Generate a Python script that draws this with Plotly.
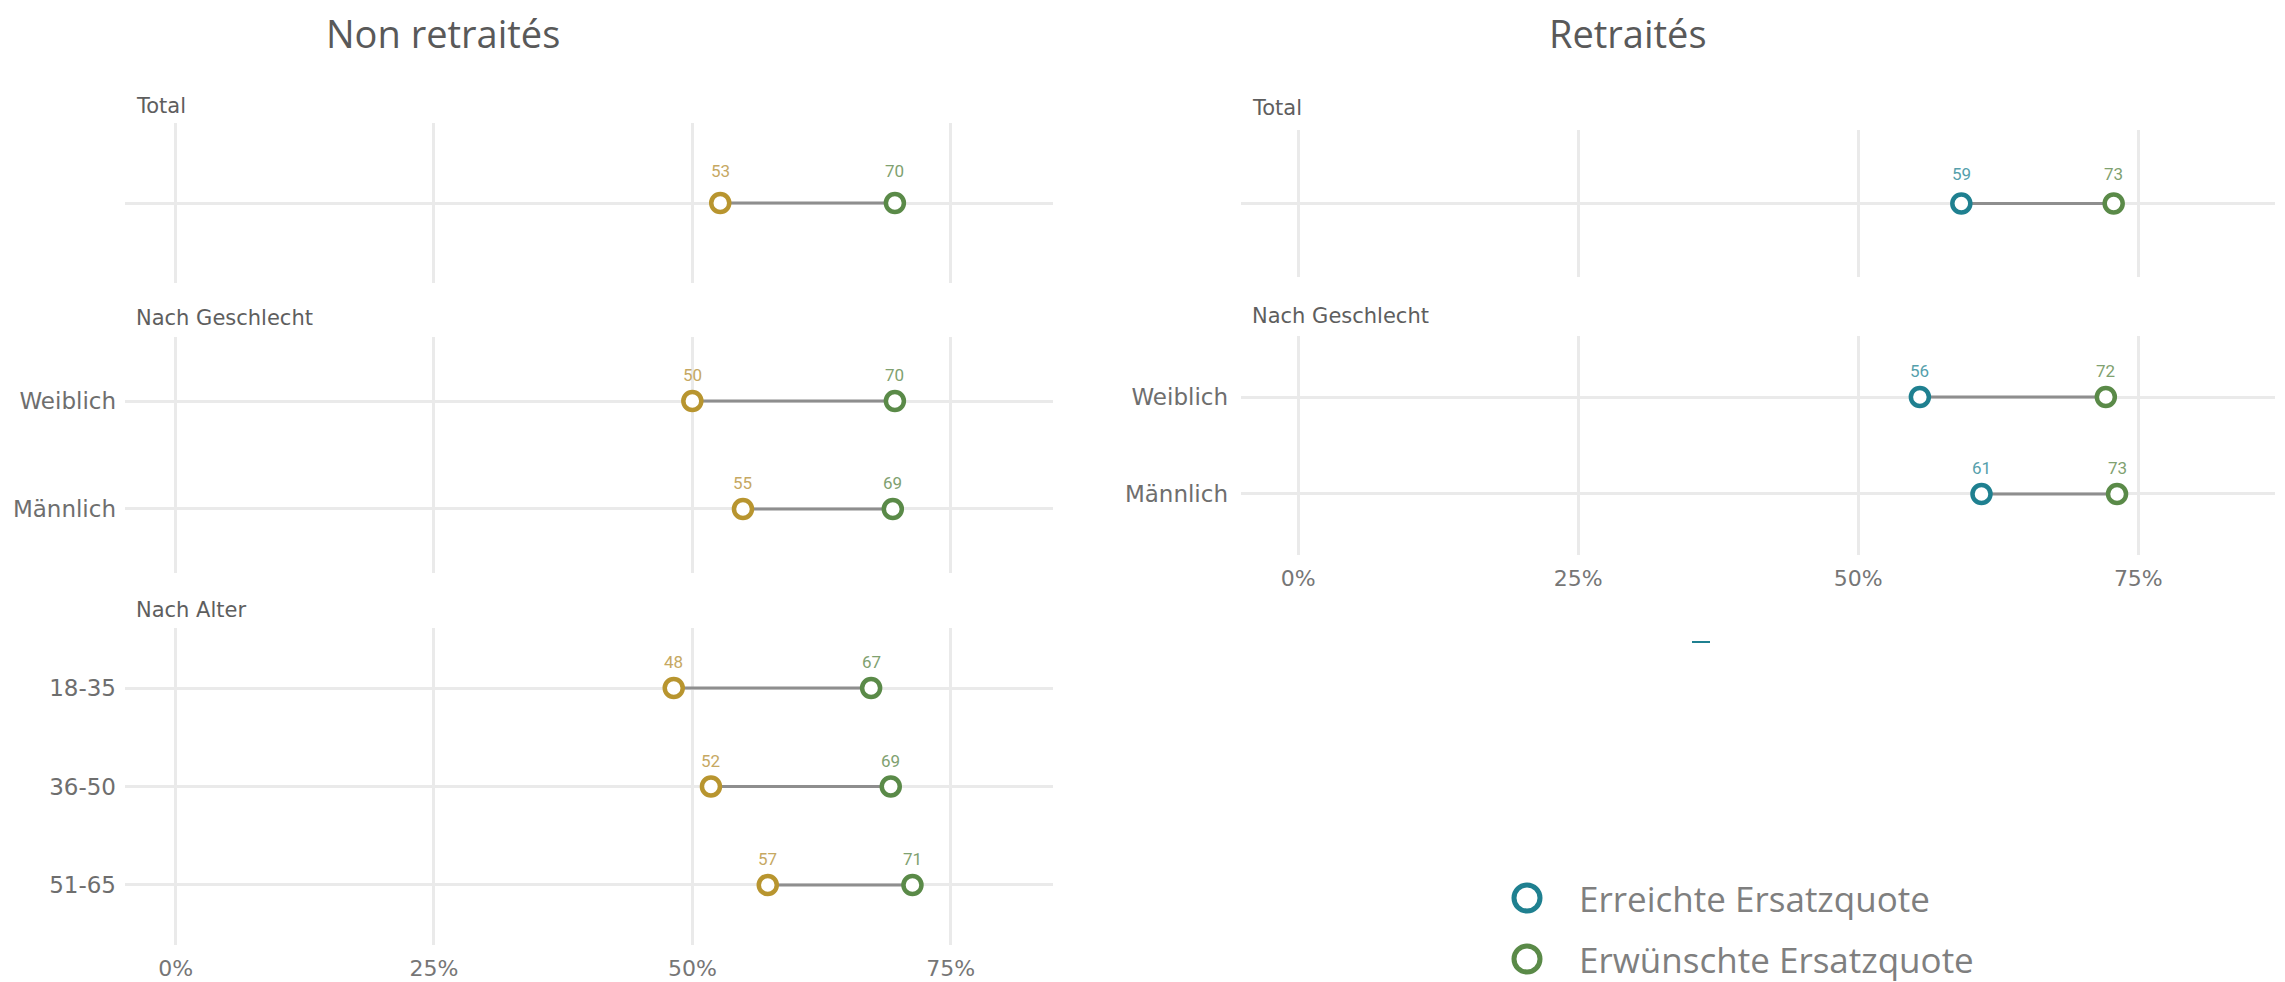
import plotly.graph_objects as go

# page body has an 8px margin: figure is offset by 8px inside the 2285x982 window
OFF = 8
W, H = 2285 - OFF, 982 - OFF

# ---------------- data ----------------
panel_titles = ["Non retraités", "Retraités"]
group_labels = ["Total", "Nach Geschlecht", "Nach Alter"]

total_cat = ["Total"]
sex_cat = ["Weiblich", "Männlich"]
age_cat = ["18-35", "36-50", "51-65"]

# Non retraités (left): first value (gold) vs Erwünschte Ersatzquote (green)
nr_total_first = [52.7]
nr_total_wish = [69.6]
nr_sex_first = [50.0, 54.9]
nr_sex_wish = [69.6, 69.4]
nr_age_first = [48.2, 51.8, 57.3]
nr_age_wish = [67.3, 69.2, 71.3]

# Retraités (right): Erreichte Ersatzquote (teal) vs Erwünschte Ersatzquote (green)
r_total_reached = [59.2]
r_total_wish = [72.8]
r_sex_reached = [55.5, 61.0]
r_sex_wish = [72.1, 73.1]

legend_labels = ["Erreichte Ersatzquote", "Erwünschte Ersatzquote"]

x_tickvals = [0, 25, 50, 75]
x_ticktext = ["0%", "25%", "50%", "75%"]

# ---------------- style ----------------
GOLD, GOLD_T = "#B8952F", "#C6A862"
GREEN, GREEN_T = "#5A8A48", "#7FA170"
TEAL, TEAL_T = "#1F8090", "#559FAC"
SEG = "#8E8E8E"
GRID = "#EAEAEA"
FONT = "DejaVu Sans"


def px_x(p):
    return (p - OFF) / W


def px_y(p):
    return 1 - (p - OFF) / H


fig = go.Figure()

L_X = (125, 1053)
R_X = (1241, 2275)
L_RANGE = [-4.9, 84.9]
R_RANGE = [-5.1, 87.2]

specs = [
    ("", L_X, (123, 283), L_RANGE, total_cat, 0.5, False, nr_total_first, nr_total_wish, GOLD, GOLD_T, 32, 8),
    ("2", L_X, (337, 573), L_RANGE, sex_cat, 0.593, False, nr_sex_first, nr_sex_wish, GOLD, GOLD_T, 26, 8),
    ("3", L_X, (628, 945), L_RANGE, age_cat, 0.61, True, nr_age_first, nr_age_wish, GOLD, GOLD_T, 26, 8),
    ("4", R_X, (130, 277), R_RANGE, total_cat, 0.5, False, r_total_reached, r_total_wish, TEAL, TEAL_T, 30, 12),
    ("5", R_X, (336, 555), R_RANGE, sex_cat, 0.63, True, r_sex_reached, r_sex_wish, TEAL, TEAL_T, 26, 12),
]

annotations = []

for suf, xd, yd, xr, cats, pad, showx, first, wish, c1, c1t, lshift, ystand in specs:
    xa = "x" + suf
    ya = "y" + suf
    # connecting segments
    sx, sy = [], []
    for cat, a, b in zip(cats, first, wish):
        sx += [a, b, None]
        sy += [cat, cat, None]
    fig.add_trace(go.Scatter(x=sx, y=sy, mode="lines", xaxis=xa, yaxis=ya,
                             line=dict(color=SEG, width=3), showlegend=False,
                             hoverinfo="skip"))
    for vals, col, tcol in ((first, c1, c1t), (wish, GREEN, GREEN_T)):
        fig.add_trace(go.Scatter(
            x=vals, y=cats, mode="markers", xaxis=xa, yaxis=ya,
            marker=dict(symbol="circle", size=18, color="white",
                        line=dict(color=col, width=4.5)),
            showlegend=False, cliponaxis=False))
        for v, c in zip(vals, cats):
            annotations.append(dict(text=str(int(round(v))), x=v, y=c, xref=xa, yref=ya,
                                    yshift=lshift, showarrow=False,
                                    xanchor="center", yanchor="middle",
                                    font=dict(family="Roboto", size=17, color=tcol)))

    n = len(cats)
    fig.layout["xaxis" + suf] = dict(
        domain=[px_x(xd[0]), px_x(xd[1])], range=xr, anchor=ya,
        tickvals=x_tickvals, ticktext=x_ticktext, showticklabels=showx,
        showgrid=True, gridcolor=GRID, gridwidth=3, zeroline=False,
        showline=False, ticks="", ticklabelstandoff=8,
        tickfont=dict(family=FONT, size=22, color="#767676"))
    fig.layout["yaxis" + suf] = dict(
        domain=[px_y(yd[1]), px_y(yd[0])], type="category",
        categoryarray=cats, categoryorder="array",
        range=[n - 1 + pad, -pad], anchor=xa,
        showgrid=True, gridcolor=GRID, gridwidth=3, zeroline=False,
        showline=False, ticks="", ticklabelstandoff=ystand,
        showticklabels=(cats is not total_cat),
        tickfont=dict(family=FONT, size=23, color="#6E6E6E"))

# panel titles
for txt, cx in zip(panel_titles, (443, 1628)):
    annotations.append(dict(text=txt, x=px_x(cx), y=px_y(33), xref="paper", yref="paper",
                            xanchor="center", yanchor="middle", showarrow=False,
                            font=dict(family="Open Sans", size=38, color="#595959")))
# group labels
for txt, lx, cy in ((group_labels[0], 134, 106), (group_labels[1], 134, 318), (group_labels[2], 134, 610),
                    (group_labels[0], 1250, 108), (group_labels[1], 1250, 316)):
    annotations.append(dict(text=txt, x=px_x(lx), y=px_y(cy), xref="paper", yref="paper",
                            xanchor="left", yanchor="middle", showarrow=False,
                            font=dict(family=FONT, size=21, color="#5E5E5E")))

shapes = []
# manual legend
for lab, col, cy in ((legend_labels[0], TEAL, 898), (legend_labels[1], GREEN, 959)):
    shapes.append(dict(type="circle", xref="paper", yref="paper",
                       xsizemode="pixel", ysizemode="pixel",
                       xanchor=px_x(1527), yanchor=px_y(cy),
                       x0=-13, x1=13, y0=-13, y1=13,
                       line=dict(color=col, width=5), fillcolor="white"))
    annotations.append(dict(text=lab, x=px_x(1577), y=px_y(cy), xref="paper", yref="paper",
                            xanchor="left", yanchor="middle", showarrow=False,
                            font=dict(family="Open Sans", size=35, color="#7F7F7F")))
# small teal remnant mark
shapes.append(dict(type="line", xref="paper", yref="paper",
                   x0=px_x(1692), x1=px_x(1710), y0=px_y(642), y1=px_y(642),
                   line=dict(color=TEAL, width=2)))

fig.update_layout(width=W, height=H, margin=dict(l=0, r=0, t=0, b=0),
                  paper_bgcolor="white", plot_bgcolor="white",
                  annotations=annotations, shapes=shapes, showlegend=False)

fig.write_html("out.html")
